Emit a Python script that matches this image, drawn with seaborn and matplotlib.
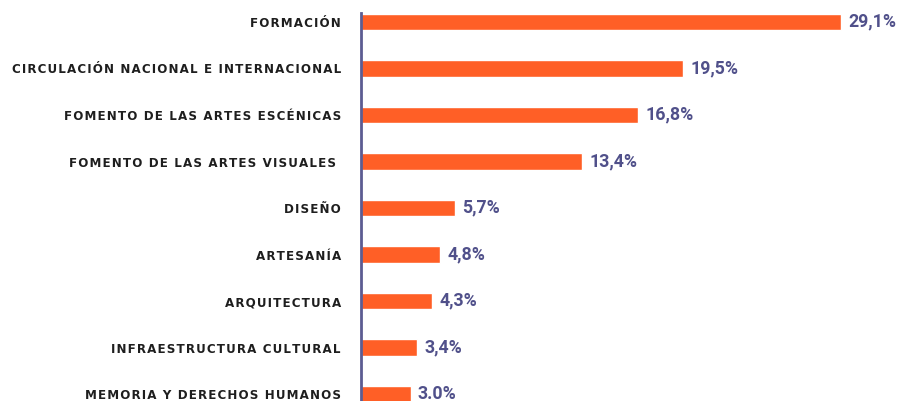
import matplotlib
matplotlib.use("Agg")
import matplotlib.pyplot as plt
import seaborn as sns
import pandas as pd

categories = [
    "FORMACIÓN",
    "CIRCULACIÓN NACIONAL E INTERNACIONAL",
    "FOMENTO DE LAS ARTES ESCÉNICAS",
    "FOMENTO DE LAS ARTES VISUALES ",
    "DISEÑO",
    "ARTESANÍA",
    "ARQUITECTURA",
    "INFRAESTRUCTURA CULTURAL",
    "MEMORIA Y DERECHOS HUMANOS",
]
values = [29.1, 19.5, 16.8, 13.4, 5.7, 4.8, 4.3, 3.4, 3.0]
value_labels = ["29,1%", "19,5%", "16,8%", "13,4%", "5,7%", "4,8%", "4,3%", "3,4%", "3.0%"]

bar_color = "#ff5f26"
text_color = "#50508a"
label_color = "#1e1e1e"

df = pd.DataFrame({"cat": categories, "val": values})

sns.set_style("white")

fig = plt.figure(figsize=(8.99, 4.01), dpi=100)
ax = fig.add_axes([361 / 899, 0, 1 - 361 / 899, 1])

sns.barplot(data=df, y="cat", x="val", orient="h", color=bar_color,
            width=0.35, saturation=1, ax=ax)

ax.set_xlim(0, 538 / 16.5)
ax.set_ylim(8.15, -0.473)

for i, (v, lab) in enumerate(zip(values, value_labels)):
    ax.text(v + 0.45, i - 0.01, lab, va="center", ha="left",
            fontsize=12.8, fontweight="bold", family="Roboto", color=text_color)

def spaced(s):
    return "\u200a".join(s)

ax.set_yticks(range(len(categories)))
ax.set_yticklabels([spaced(c) for c in categories], fontsize=8.55,
                   fontweight="bold", family="DejaVu Sans", color=label_color)
ax.tick_params(axis="y", length=0, pad=14.5)
ax.set_xticks([])
ax.set_xlabel("")
ax.set_ylabel("")

for s in ["top", "right", "bottom"]:
    ax.spines[s].set_visible(False)
ax.spines["left"].set_color("#5c5c92")
ax.spines["left"].set_linewidth(2)
ax.spines["left"].set_bounds(8.2, -0.2)

fig.savefig("out.png", dpi=100)
